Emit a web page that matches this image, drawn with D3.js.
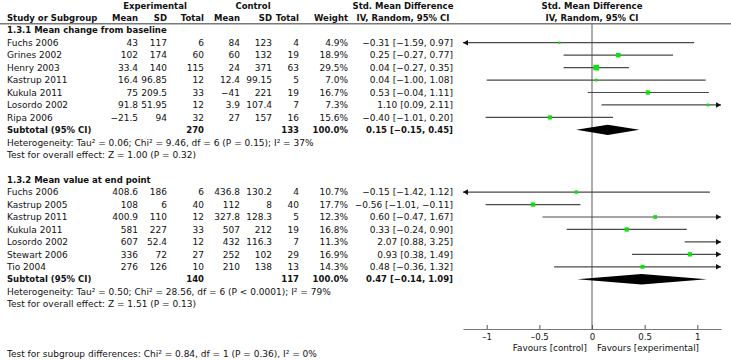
<!DOCTYPE html>
<html><head><meta charset="utf-8">
<script src="https://cdn.jsdelivr.net/npm/d3@7"></script>
<style>
html,body{margin:0;padding:0;background:#fff;}
svg{display:block;}
text{font-family:"DejaVu Sans",sans-serif;fill:#111;}
</style></head>
<body>
<svg id="chart" width="731" height="361"></svg>
<script>
// ---------- data ----------
const groupTitles = ["1.3.1 Mean change from baseline", "1.3.2 Mean value at end point"];

const studies1 = ["Fuchs 2006","Grines 2002","Henry 2003","Kastrup 2011","Kukula 2011","Losordo 2002","Ripa 2006"];
const expMean1 = [43, 102, 33.4, 16.4, 75, 91.8, -21.5];
const expSD1   = [117, 174, 140, 96.85, 209.5, 51.95, 94];
const expN1    = [6, 60, 115, 12, 33, 12, 32];
const ctlMean1 = [84, 60, 24, 12.4, -41, 3.9, 27];
const ctlSD1   = [123, 132, 371, 99.15, 221, 107.4, 157];
const ctlN1    = [4, 19, 63, 5, 19, 7, 16];
const weight1  = [4.9, 18.9, 29.5, 7.0, 16.7, 7.3, 15.6];
const smd1     = [-0.31, 0.25, 0.04, 0.04, 0.53, 1.10, -0.40];
const lo1      = [-1.59, -0.27, -0.27, -1.00, -0.04, 0.09, -1.01];
const hi1      = [0.97, 0.77, 0.35, 1.08, 1.11, 2.11, 0.20];
const subtotal1 = {expN: 270, ctlN: 133, smd: 0.15, lo: -0.15, hi: 0.45};
const het1  = "Heterogeneity: Tau² = 0.06; Chi² = 9.46, df = 6 (P = 0.15); I² = 37%";
const test1 = "Test for overall effect: Z = 1.00 (P = 0.32)";

const studies2 = ["Fuchs 2006","Kastrup 2005","Kastrup 2011","Kukula 2011","Losordo 2002","Stewart 2006","Tio 2004"];
const expMean2 = [408.6, 108, 400.9, 581, 607, 336, 276];
const expSD2   = [186, 6, 110, 227, 52.4, 72, 126];
const expN2    = [6, 40, 12, 33, 12, 27, 10];
const ctlMean2 = [436.8, 112, 327.8, 507, 432, 252, 210];
const ctlSD2   = [130.2, 8, 128.3, 212, 116.3, 102, 138];
const ctlN2    = [4, 40, 5, 19, 7, 29, 13];
const weight2  = [10.7, 17.7, 12.3, 16.8, 11.3, 16.9, 14.3];
const smd2     = [-0.15, -0.56, 0.60, 0.33, 2.07, 0.93, 0.48];
const lo2      = [-1.42, -1.01, -0.47, -0.24, 0.88, 0.38, -0.36];
const hi2      = [1.12, -0.11, 1.67, 0.90, 3.25, 1.49, 1.32];
const subtotal2 = {expN: 140, ctlN: 117, smd: 0.47, lo: -0.14, hi: 1.09};
const het2  = "Heterogeneity: Tau² = 0.50; Chi² = 28.56, df = 6 (P < 0.0001); I² = 79%";
const test2 = "Test for overall effect: Z = 1.51 (P = 0.13)";

const subgroupTest = "Test for subgroup differences: Chi² = 0.84, df = 1 (P = 0.36), I² = 0%";
const tickValues = [-1, -0.5, 0, 0.5, 1];
const favourLeft = "Favours [control]";
const favourRight = "Favours [experimental]";

// ---------- layout ----------
const svg = d3.select("#chart");
const W = 731;
const x = d3.scaleLinear().domain([-1.225, 1.225]).range([463, 721]);
const row = d3.scaleLinear().domain([0, 28]).range([5.35, 5.35 + 28 * 12.45]);
const axisY = 329;
const BASE = 3.2;
const col = {name: 7, expMean: 138, expSD: 167, expN: 204, ctlMean: 240, ctlSD: 272, ctlN: 299, weight: 348, ci: 453};
const minus = v => String(v).replace("-", "\u2212");
const f2 = v => minus(v.toFixed(2));
const ciText = (m, l, h) => `${f2(m)} [${f2(l)}, ${f2(h)}]`;

function txt(xp, r, s, anchor, bold, size) {
  return svg.append("text")
    .attr("x", xp).attr("y", row(r) + BASE)
    .attr("text-anchor", anchor || "start")
    .attr("font-size", size || (bold ? 8.5 : 9))
    .attr("font-weight", bold ? "bold" : "normal")
    .text(s);
}

// header
txt(155, 0, "Experimental", "middle", true);
txt(253, 0, "Control", "middle", true);
txt(403, 0, "Std. Mean Difference", "middle", true);
txt(x(0), 0, "Std. Mean Difference", "middle", true);
txt(col.name, 1, "Study or Subgroup", "start", true);
txt(col.expMean, 1, "Mean", "end", true);
txt(col.expSD, 1, "SD", "end", true);
txt(col.expN, 1, "Total", "end", true);
txt(col.ctlMean, 1, "Mean", "end", true);
txt(col.ctlSD, 1, "SD", "end", true);
txt(col.ctlN, 1, "Total", "end", true);
txt(col.weight, 1, "Weight", "end", true);
txt(403, 1, "IV, Random, 95% CI", "middle", true);
txt(x(0), 1, "IV, Random, 95% CI", "middle", true);

svg.append("line").attr("x1", 0).attr("x2", W).attr("y1", 23.8).attr("y2", 23.8)
  .attr("stroke", "#7a7a7a").attr("stroke-width", 1.4);

// zero line
svg.append("line").attr("x1", x(0)).attr("x2", x(0)).attr("y1", 23.8).attr("y2", axisY)
  .attr("stroke", "#777").attr("stroke-width", 1.2);

const [dMin, dMax] = x.domain();
const marks = svg.append("g");

function drawGroup(startRow, title, studies, em, es, en, cm, cs, cn, wt, smd, lo, hi, sub, het, test) {
  txt(col.name, startRow, title, "start", true);
  studies.forEach((s, i) => {
    const r = startRow + 1 + i;
    txt(col.name, r, s);
    txt(col.expMean, r, minus(em[i]), "end");
    txt(col.expSD, r, minus(es[i]), "end");
    txt(col.expN, r, en[i], "end");
    txt(col.ctlMean, r, minus(cm[i]), "end");
    txt(col.ctlSD, r, minus(cs[i]), "end");
    txt(col.ctlN, r, cn[i], "end");
    txt(col.weight, r, wt[i].toFixed(1) + "%", "end");
    txt(col.ci, r, ciText(smd[i], lo[i], hi[i]), "end");
    const y = row(r);
    const l = Math.max(lo[i], dMin), h = Math.min(hi[i], dMax);
    marks.append("line").attr("x1", x(l)).attr("x2", x(h)).attr("y1", y).attr("y2", y)
      .attr("stroke", "#4a4a4a").attr("stroke-width", 1.2);
    if (hi[i] > dMax) {
      const tx = x(dMax);
      marks.append("path").attr("d", `M${tx},${y} L${tx - 5},${y - 2.8} L${tx - 5},${y + 2.8} Z`).attr("fill", "#111");
    }
    if (lo[i] < dMin) {
      const tx = x(dMin);
      marks.append("path").attr("d", `M${tx},${y} L${tx + 5},${y - 2.8} L${tx + 5},${y + 2.8} Z`).attr("fill", "#111");
    }
    if (smd[i] >= dMin && smd[i] <= dMax) {
      const sz = 1.05 * Math.sqrt(wt[i]);
      marks.append("rect").attr("x", x(smd[i]) - sz / 2).attr("y", y - sz / 2)
        .attr("width", sz).attr("height", sz).attr("fill", "#10e010");
    }
  });
  const rs = startRow + 1 + studies.length;
  txt(col.name, rs, "Subtotal (95% CI)", "start", true);
  txt(col.expN, rs, sub.expN, "end", true);
  txt(col.ctlN, rs, sub.ctlN, "end", true);
  txt(col.weight, rs, "100.0%", "end", true);
  txt(col.ci, rs, ciText(sub.smd, sub.lo, sub.hi), "end", true);
  const y = row(rs);
  marks.append("path")
    .attr("d", `M${x(sub.lo)},${y} L${x(sub.smd)},${y - 5.2} L${x(sub.hi)},${y} L${x(sub.smd)},${y + 5.2} Z`)
    .attr("fill", "#000");
  txt(col.name, rs + 1, het);
  txt(col.name, rs + 2, test);
}

drawGroup(2, groupTitles[0], studies1, expMean1, expSD1, expN1, ctlMean1, ctlSD1, ctlN1, weight1, smd1, lo1, hi1, subtotal1, het1, test1);
drawGroup(14, groupTitles[1], studies2, expMean2, expSD2, expN2, ctlMean2, ctlSD2, ctlN2, weight2, smd2, lo2, hi2, subtotal2, het2, test2);

txt(col.name, 28, subgroupTest);

// axis
const axis = d3.axisBottom(x).tickValues(tickValues).tickSizeInner(-4).tickSizeOuter(0).tickPadding(4.5)
  .tickFormat(d => d < 0 ? "\u2013" + Math.abs(d) : String(d));
const ag = svg.append("g").attr("transform", `translate(0,${axisY})`).call(axis);
ag.select(".domain").attr("stroke", "#777").attr("stroke-width", 1.2);
ag.selectAll(".tick line").attr("stroke", "#555").attr("y2", -4);
ag.selectAll(".tick text").attr("font-family", "DejaVu Sans").attr("font-size", 8.6).attr("fill", "#111");

svg.append("text").attr("x", x(0) - 5).attr("y", 351).attr("text-anchor", "end").attr("font-size", 8.8).text(favourLeft);
svg.append("text").attr("x", x(0) + 5).attr("y", 351).attr("text-anchor", "start").attr("font-size", 8.8).text(favourRight);
</script>
</body></html>
